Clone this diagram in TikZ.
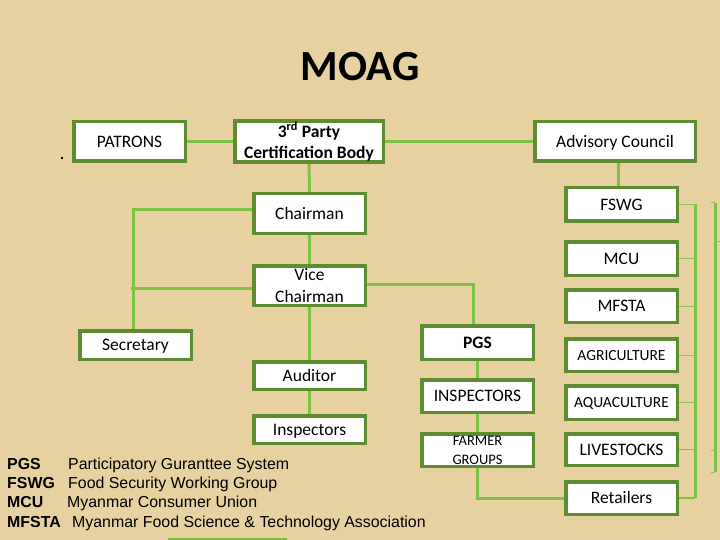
\documentclass[tikz,border=0pt]{standalone}
\usepackage{fontspec}
\setmainfont{Carlito}
\newfontfamily\arialf{Liberation Sans}
\definecolor{bgc}{HTML}{E8D1A0}
\definecolor{boxg}{HTML}{5E8C31}
\definecolor{lineg}{HTML}{7DC242}
\definecolor{tickg}{HTML}{8CC656}
\pgfdeclarelayer{bgl}
\pgfsetlayers{bgl,main}
\begin{document}
\begin{tikzpicture}[x=1pt,y=-1pt,
  bx/.style={draw=boxg,line width=3.5pt,fill=white,inner sep=1pt,align=center,
    font=\fontsize{17.5}{21}\selectfont},
  capc/.style={text height=11.3pt,text depth=0pt},
  conn/.style={draw=lineg,line width=3pt},
  tick/.style={draw=tickg,line width=1pt},
  midtick/.style={draw=lineg,line width=1.8pt},
  leg/.style={font=\arialf\fontsize{15.9}{19}\selectfont,anchor=base west,inner sep=0pt},
  legb/.style={font=\arialf\bfseries\fontsize{15.9}{19}\selectfont,anchor=base west,inner sep=0pt}]
\useasboundingbox (0,0) rectangle (720,540);
\begin{pgfonlayer}{bgl}
\fill[bgc] (0,0) rectangle (720,540);
\end{pgfonlayer}

% title
\node[font=\bfseries\fontsize{43}{50}\selectfont,anchor=base,inner sep=0pt] (title) at (360,81) {MOAG};

% top row
\node[bx,capc,minimum width=111.5pt,minimum height=39.5pt] (pat) at (129.5,141.5) {PATRONS};
\node[bx,font=\bfseries\fontsize{17.5}{21}\selectfont,minimum width=148.5pt,minimum height=39.5pt] (tp) at (309,141.5) {3\textsuperscript{rd} Party\\Certification Body};
\node[bx,capc,minimum width=160.5pt,minimum height=39.5pt] (adv) at (615,141.5) {Advisory Council};

% centre column
\node[bx,capc,minimum width=111.5pt,minimum height=39.5pt] (chair) at (309.5,213.5) {Chairman};
\node[bx,font=\fontsize{17.5}{22}\selectfont,minimum width=111.5pt,minimum height=39.5pt] (vice) at (309.5,285.5) {Vice\\Chairman};
\node[bx,capc,minimum width=111.5pt,minimum height=28.5pt] (sec) at (135.5,345) {Secretary};
\node[bx,capc,minimum width=111.5pt,minimum height=27.5pt] (aud) at (309.5,375.5) {Auditor};
\node[bx,capc,minimum width=111.5pt,minimum height=27.5pt] (inspl) at (309.5,429.5) {Inspectors};

% PGS column
\node[bx,capc,font=\bfseries\fontsize{17.5}{21}\selectfont,minimum width=111.5pt,minimum height=33.5pt] (pgs) at (477.5,342.5) {PGS};
\node[bx,capc,minimum width=111.5pt,minimum height=32.5pt] (insp) at (477.5,396) {INSPECTORS};
\node[bx,font=\fontsize{14.5}{19}\selectfont,minimum width=111.5pt,minimum height=32.5pt] (farm) at (477.5,450) {FARMER\\GROUPS};

% right column
\node[bx,capc,minimum width=111.5pt,minimum height=33.5pt] (fswg) at (621.5,204.5) {FSWG};
\node[bx,capc,minimum width=111.5pt,minimum height=33.5pt] (mcu) at (621.5,258.5) {MCU};
\node[bx,capc,minimum width=111.5pt,minimum height=32.5pt] (mfsta) at (621.5,306) {MFSTA};
\node[bx,font=\fontsize{15.5}{19}\selectfont,text height=10pt,text depth=0pt,minimum width=111.5pt,minimum height=32.5pt] (agri) at (621.5,355) {AGRICULTURE};
\node[bx,font=\fontsize{15.5}{19}\selectfont,text height=10pt,text depth=0pt,minimum width=111.5pt,minimum height=33.5pt] (aqua) at (621.5,402.5) {AQUACULTURE};
\node[bx,capc,minimum width=111.5pt,minimum height=31.5pt] (live) at (621.5,449.5) {LIVESTOCKS};
\node[bx,capc,minimum width=111.5pt,minimum height=32.5pt] (ret) at (621.5,498) {Retailers};

% bus coordinates
\coordinate (advb) at ([xshift=3pt]adv.south);
\coordinate (bt) at (695,204.5);
\coordinate (bb) at (695,498);
\coordinate (rt) at (715,203);
\coordinate (rb) at (715,472);

\begin{pgfonlayer}{bgl}
\draw[conn] (pat.east) -- (tp.west);
\draw[conn] (tp.east) -- (adv.west);
\draw[conn] (tp.south) -- (chair.north);
\draw[conn] (chair.south) -- (vice.north);
\draw[conn] (vice.south) -- (aud.north);
\draw[conn] (aud.south) -- (inspl.north);
\draw[conn] ([yshift=3.5pt]chair.west) -| ([xshift=-2.5pt]sec.north);
\draw[conn] ([yshift=-2.5pt]vice.west) -- ++(-121.5,0);
\draw[conn] ([yshift=1.5pt]vice.east) -| ([xshift=-4pt]pgs.north);
\draw[conn] (pgs.south) -- (insp.north);
\draw[conn] (insp.south) -- (farm.north);
\draw[conn] (farm.south) |- (ret.west);
\draw[conn] (advb) -- (advb |- fswg.north);
% right bus
\draw[conn] (bt) -- (bb);
\draw[tick] (fswg.east) -- (bt);
\draw[tick] (mcu.east) -- (mcu.east -| bt);
\draw[tick] (mfsta.east) -- (mfsta.east -| bt);
\draw[tick] (agri.east) -- (agri.east -| bt);
\draw[tick] (aqua.east) -- (aqua.east -| bt);
\draw[midtick] (live.east) -- (live.east -| bt);
\draw[midtick] (ret.east) -- (bb);
% right edge bracket
\draw[conn] (rt) -- (rb);
\draw[tick] (rt) -- ++(-4,0);
\draw[tick] (rb) -- ++(-4,0);
\draw[tick] (715,450) -- ++(-4,0);
\draw[tick] (715,241) -- ++(5,0);
% partial line at the bottom edge
\draw[conn,line width=2.5pt] (168,539) -- (287,539);
\end{pgfonlayer}

% small dot
\fill (61,157) rectangle (63,159);

% legend
\node[legb] (l1a) at (7,469) {PGS};
\node[leg] (l1b) at (68,469) {Participatory Guranttee System};
\node[legb] (l2a) at (7,488.3) {FSWG};
\node[leg] (l2b) at (68,488.3) {Food Security Working Group};
\node[legb] (l3a) at (7,507.6) {MCU};
\node[leg] (l3b) at (67,507.6) {Myanmar Consumer Union};
\node[legb] (l4a) at (7,527) {MFSTA};
\node[leg] (l4b) at (72,527) {Myanmar Food Science \& Technology Association};
\end{tikzpicture}
\end{document}
